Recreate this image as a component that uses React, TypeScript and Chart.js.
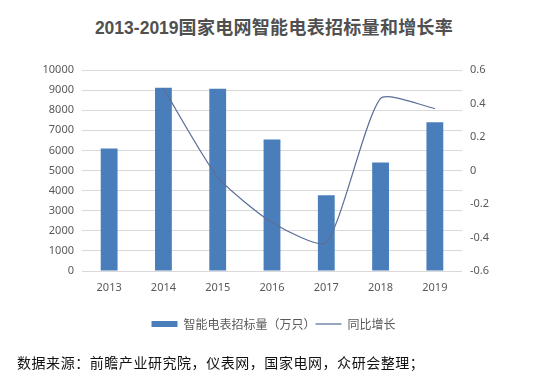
import React, { useEffect, useRef } from 'react';
import { Chart, registerables } from 'chart.js';

Chart.register(...registerables);

const years = ['2013', '2014', '2015', '2016', '2017', '2018', '2019'];
const bidVolume = [6100, 9120, 9070, 6540, 3770, 5400, 7400];
const yoyGrowth: (number | null)[] = [null, 0.49, -0.04, -0.31, -0.43, 0.43, 0.37];
const barLabel = '智能电表招标量（万只）';
const lineLabel = '同比增长';
const titleYears = '2013-2019';
const titleText = '国家电网智能电表招标量和增长率';
const sourceText = '数据来源：前瞻产业研究院，仪表网，国家电网，众研会整理；';

const BAR_COLOR = '#4a7ebb';
const LINE_COLOR = '#5b6f98';
const TEXT_COLOR = '#595959';
const GRID_COLOR = '#d9d9d9';
const TICK_FONT = { family: '"Noto Sans", "Liberation Sans", sans-serif', size: 11 };

export default function App() {
  const canvasRef = useRef<HTMLCanvasElement | null>(null);

  useEffect(() => {
    document.body.style.margin = '0';
    const ctx = canvasRef.current!.getContext('2d')!;
    const chart = new Chart(ctx, {
      data: {
        labels: years,
        datasets: [
          {
            type: 'line',
            label: lineLabel,
            data: yoyGrowth,
            yAxisID: 'y1',
            borderColor: LINE_COLOR,
            backgroundColor: LINE_COLOR,
            borderWidth: 1.25,
            pointRadius: 0,
            tension: 0.2,
            spanGaps: false,
            order: 0,
          } as any,
          {
            type: 'bar',
            label: barLabel,
            data: bidVolume,
            yAxisID: 'y',
            backgroundColor: BAR_COLOR,
            borderWidth: 0,
            barPercentage: 0.31,
            categoryPercentage: 1,
            order: 1,
          } as any,
        ],
      },
      options: {
        animation: false,
        responsive: false,
        maintainAspectRatio: false,
        layout: { padding: { left: 14, right: 0, top: 70, bottom: 51 } },
        plugins: {
          title: { display: false },
          tooltip: { enabled: false },
          legend: {
            display: true,
            position: 'bottom',
            reverse: true,
            labels: {
              color: TEXT_COLOR,
              font: { family: '"Noto Sans CJK SC", sans-serif', size: 12 },
              usePointStyle: true,
              pointStyleWidth: 26,
              boxHeight: 6,
              padding: 0,
              generateLabels: (c: any) => {
                const items = Chart.defaults.plugins.legend.labels.generateLabels(c);
                return items.map((it: any) => {
                  const ds = c.data.datasets[it.datasetIndex];
                  if (ds.type === 'line') {
                    return { ...it, pointStyle: 'line', strokeStyle: LINE_COLOR, lineWidth: 1.25 };
                  }
                  return { ...it, pointStyle: 'rect', fillStyle: BAR_COLOR, lineWidth: 0 };
                });
              },
            },
          },
        },
        scales: {
          x: {
            grid: { display: false, drawTicks: false },
            border: { display: false },
            ticks: { color: TEXT_COLOR, font: TICK_FONT, padding: 10 },
            afterFit: (s: any) => { s.height = 47; },
          },
          y: {
            position: 'left',
            min: 0,
            max: 10000,
            ticks: {
              stepSize: 1000,
              color: TEXT_COLOR,
              font: TICK_FONT,
              padding: 8,
              callback: (v: any) => String(v),
            },
            grid: { color: GRID_COLOR, drawTicks: false },
            border: { display: false },
            afterFit: (s: any) => { s.width = 68; },
          },
          y1: {
            position: 'right',
            min: -0.6,
            max: 0.6,
            ticks: {
              stepSize: 0.2,
              color: TEXT_COLOR,
              font: TICK_FONT,
              padding: 8,
              callback: (v: any) => String(Number(Number(v).toFixed(1))),
            },
            grid: { drawOnChartArea: false, drawTicks: false },
            border: { display: false },
            afterFit: (s: any) => { s.width = 71; },
          },
        },
      } as any,
    });
    return () => chart.destroy();
  }, []);

  return (
    <div style={{ position: 'absolute', left: 0, top: 0, width: 533, height: 391, background: '#fff', overflow: 'hidden' }}>
      <div
        style={{
          position: 'absolute',
          top: 16,
          left: 0,
          width: 533,
          textAlign: 'center',
          lineHeight: '20px',
          color: '#505050',
          whiteSpace: 'nowrap',
          paddingLeft: 15,
          boxSizing: 'border-box',
        }}
      >
        <span style={{ fontFamily: '"Liberation Sans", sans-serif', fontWeight: 700, fontSize: 17.5 }}>{titleYears}</span>
        <span style={{ fontFamily: '"Noto Sans CJK SC", sans-serif', fontWeight: 700, fontSize: 18, letterSpacing: 0.3 }}>{titleText}</span>
      </div>
      <canvas ref={canvasRef} width={533} height={391} style={{ position: 'absolute', left: 0, top: 0, width: 533, height: 391 }} />
      <div
        style={{
          position: 'absolute',
          top: 352,
          left: 17,
          lineHeight: '20px',
          fontFamily: '"Noto Sans CJK SC", sans-serif',
          fontSize: 14,
          letterSpacing: 0.55,
          color: '#111',
          whiteSpace: 'nowrap',
        }}
      >
        {sourceText}
      </div>
    </div>
  );
}
